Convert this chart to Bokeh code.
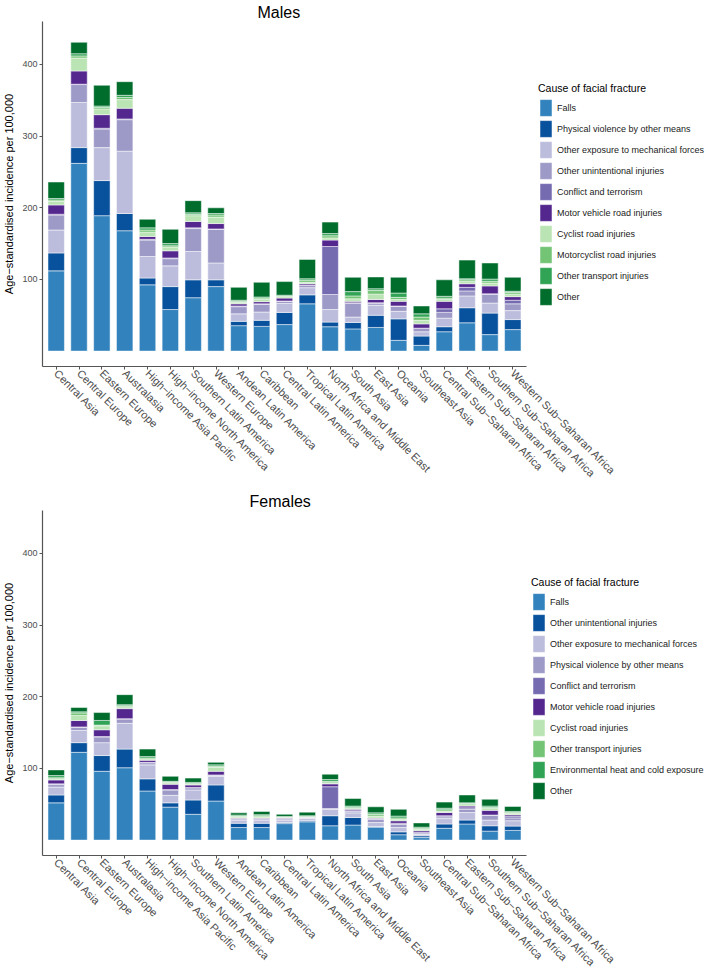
import math
from bokeh.plotting import figure
from bokeh.models import ColumnDataSource, Range1d, FixedTicker, Legend, LegendItem
from bokeh.layouts import column
from bokeh.embed import file_html
from bokeh.resources import INLINE

regions = ["Central Asia", "Central Europe", "Eastern Europe", "Australasia",
           "High\u2212income Asia Pacific", "High\u2212income North America",
           "Southern Latin America", "Western Europe", "Andean Latin America",
           "Caribbean", "Central Latin America", "Tropical Latin America",
           "North Africa and Middle East", "South Asia", "East Asia", "Oceania",
           "Southeast Asia", "Central Sub\u2212Saharan Africa",
           "Eastern Sub\u2212Saharan Africa", "Southern Sub\u2212Saharan Africa",
           "Western Sub\u2212Saharan Africa"]
region_pos = list(range(1, len(regions) + 1))

# ---- Males (age-standardised incidence per 100,000) ----
male_causes = ["Falls", "Physical violence by other means",
               "Other exposure to mechanical forces", "Other unintentional injuries",
               "Conflict and terrorism", "Motor vehicle road injuries",
               "Cyclist road injuries", "Motorcyclist road injuries",
               "Other transport injuries", "Other"]
falls_m = [112, 262, 189, 168, 92.5, 58, 74.5, 90, 35.5, 34.5, 37, 66, 34, 31, 33, 15, 8, 27, 39.5, 23, 30]
phys_m = [25, 22, 49, 24, 9.5, 32, 25, 9.5, 6, 8.5, 17, 12.5, 6.5, 9, 17, 30, 13, 7, 21, 30, 14]
othexp_m = [32, 63, 46, 87, 30, 29, 39.5, 23.5, 10.5, 11.5, 12.5, 10, 17.5, 7.5, 14, 10.5, 6, 12, 16.5, 14, 12.5]
othunint_m = [21, 25, 26, 44, 23, 10, 32, 47, 10, 10.5, 3, 3, 21, 19.5, 3, 7, 4.5, 8, 7, 12, 9.5]
conflict_m = [1, 0.5, 1, 1, 1, 1, 1, 0.5, 1, 1, 0.5, 0.5, 67, 0.5, 0.5, 0.5, 0.5, 5, 5, 1, 5]
motor_m = [13, 18.5, 19, 15, 4, 10, 9, 7.5, 3, 3, 4, 2, 9, 2, 4.5, 6.5, 6, 10.5, 5, 11, 5]
cyclist_m = [5, 18, 8, 12, 6, 5, 8, 9, 2, 3, 2, 2, 3, 3.5, 7.5, 2.5, 5, 2.5, 3, 4, 3.5]
motorcyc_m = [2, 3, 2, 3, 3, 2, 2, 3, 1.5, 2, 1, 3, 3, 4, 5, 3, 4.5, 2, 2.5, 2.5, 2.5]
othtrans_m = [2, 3, 2, 3, 3, 3, 2, 2, 1.5, 1.5, 1, 2, 3, 6, 2.5, 6, 4.5, 2.5, 1.5, 3, 1.5]
other_m = [23, 16, 29, 19, 12, 20, 17, 8, 18, 20.5, 19, 27, 16, 20, 16.5, 22, 11, 23, 26, 22.5, 19.5]

# ---- Females ----
female_causes = ["Falls", "Other unintentional injuries",
                 "Other exposure to mechanical forces", "Physical violence by other means",
                 "Conflict and terrorism", "Motor vehicle road injuries",
                 "Cyclist road injuries", "Other transport injuries",
                 "Environmental heat and cold exposure", "Other"]
falls_f = [52, 122.5, 96, 101, 68.5, 46, 36, 54.5, 17.5, 17.5, 23, 25.5, 20, 21, 18, 7.5, 3.5, 16.5, 22.5, 12.5, 13.5]
othunint_f = [11, 13.5, 22, 26, 17, 6, 20, 22.5, 6, 6, 1.5, 1.5, 14, 10.5, 1, 4, 2.5, 6, 5.5, 7.5, 6]
othexp_f = [11, 17, 18, 36, 19.5, 10.5, 14, 12, 4, 4, 3, 3, 9, 6.5, 5.5, 6, 2, 7.5, 10.5, 8, 7.5]
phys_f = [3.5, 4.5, 8, 6, 3, 7.5, 3, 1.5, 2, 2, 2, 1, 1, 2.5, 4.5, 4.5, 2, 2.5, 4.5, 6.5, 4]
conflict_f = [1, 0.5, 0.5, 0.5, 0.5, 0.5, 0.5, 0.5, 0.5, 0.5, 0.5, 0.5, 30.5, 0.5, 1, 1.5, 0.5, 1.5, 2, 0.5, 2.5]
motor_f = [5.5, 9, 9.5, 14, 3, 7.5, 3.5, 5, 1, 1, 1, 0.5, 4, 2, 1, 3.5, 2.5, 4.5, 2.5, 6.5, 2]
cyclist_f = [1.5, 7, 5.5, 2.5, 1.5, 2, 1.5, 5.5, 1.5, 1.5, 1, 0.5, 1.5, 1.5, 2.5, 2, 2, 2, 2, 2.5, 2]
othtrans_f = [1.5, 3.5, 1, 1.5, 1.5, 1, 1, 1.5, 1, 1.5, 0.5, 0.5, 2, 1.5, 2.5, 2, 1.5, 2, 1.5, 1.5, 1]
env_f = [3, 1.5, 6.5, 1.5, 2, 1, 1, 2, 1.5, 1.5, 0.5, 1, 2.5, 1.5, 2, 2.5, 1.5, 2, 1, 2, 1.5]
other_f = [8, 6, 11, 14, 10.5, 7, 6, 3.5, 3, 4.5, 3, 5, 7.5, 10.5, 8.5, 9.5, 6, 8.5, 11, 9.5, 7]

palette = ["#3182BD", "#08519C", "#BCBDDC", "#9E9AC8", "#756BB1", "#54278F",
           "#BAE4B3", "#74C476", "#31A354", "#006D2C"]

y_ticks = [100, 200, 300, 400]
FONT = "Liberation Sans"
FRAME_W = 665
FRAME_H = 345
PX_PER_UNIT = 22.83          # horizontal pixels per category slot
X_START = 0.4
X_END = X_START + FRAME_W / PX_PER_UNIT
AXIS_BOUNDS = (0.4, len(regions) + 0.6)


def make_panel(title, causes, series, legend_xy, title_offset):
    keys = ["s%d" % i for i in range(len(series))]
    data = {"x": region_pos, "region": regions}
    for k, s in zip(keys, series):
        data[k] = s
    src = ColumnDataSource(data)
    p = figure(x_range=Range1d(X_START, X_END), y_range=Range1d(-21.5, 460),
               frame_width=FRAME_W, frame_height=FRAME_H,
               min_border_right=0, min_border_left=5, min_border_top=0,
               output_backend="svg", toolbar_location=None, title=title)
    rends = p.vbar_stack(keys, x="x", width=0.72, source=src,
                         fill_color=palette, line_color="white", line_width=0.5)
    items = [LegendItem(label=c, renderers=[r]) for c, r in zip(causes, rends)]
    leg = Legend(items=items, title="Cause of facial fracture",
                 location=legend_xy,
                 glyph_width=15, glyph_height=21, label_height=21, spacing=0,
                 padding=2, margin=0, label_standoff=4, title_standoff=3,
                 border_line_color=None, background_fill_alpha=0,
                 label_text_font=FONT, label_text_font_size="9px",
                 label_text_color="#1A1A1A", title_text_font=FONT,
                 title_text_font_size="10.5px", title_text_font_style="normal",
                 title_text_color="#000000")
    p.add_layout(leg)

    p.title.text_font = FONT
    p.title.text_font_size = "16px"
    p.title.text_font_style = "normal"
    p.title.align = "left"
    p.title.offset = title_offset
    p.title.standoff = 2
    p.title.text_color = "#000000"

    p.grid.visible = False
    p.outline_line_color = None
    for ax in (p.xaxis, p.yaxis):
        ax.axis_line_color = "#555555"
        ax.axis_line_width = 1.2
        ax.major_tick_line_color = "#555555"
        ax.major_tick_out = 3
        ax.major_tick_in = 0
        ax.minor_tick_line_color = None
        ax.major_label_text_font = FONT
        ax.major_label_text_color = "#4D4D4D"
        ax.major_label_standoff = 2
    p.xaxis.ticker = FixedTicker(ticks=region_pos)
    p.xaxis.major_label_overrides = {pos: name for pos, name in zip(region_pos, regions)}
    p.xaxis.bounds = AXIS_BOUNDS
    p.xaxis.major_label_orientation = -math.pi / 4
    p.xaxis.major_label_text_font_size = "11px"
    p.yaxis.major_label_text_font_size = "9px"
    p.yaxis.ticker = FixedTicker(ticks=y_ticks)
    p.yaxis.axis_label = "Age\u2212standardised incidence per 100,000"
    p.yaxis.axis_label_text_font = FONT
    p.yaxis.axis_label_text_font_size = "11px"
    p.yaxis.axis_label_text_font_style = "normal"
    p.yaxis.axis_label_text_color = "#000000"
    p.yaxis.axis_label_standoff = 4
    return p


p1 = make_panel("Males", male_causes,
                [falls_m, phys_m, othexp_m, othunint_m, conflict_m, motor_m,
                 cyclist_m, motorcyc_m, othtrans_m, other_m], (496, 59), 215)
p2 = make_panel("Females", female_causes,
                [falls_f, othunint_f, othexp_f, phys_f, conflict_f, motor_f,
                 cyclist_f, othtrans_f, env_f, other_f], (489, 54), 207)

layout = column(p1, p2, spacing=3)
open("out.html", "w").write(file_html(layout, INLINE))
